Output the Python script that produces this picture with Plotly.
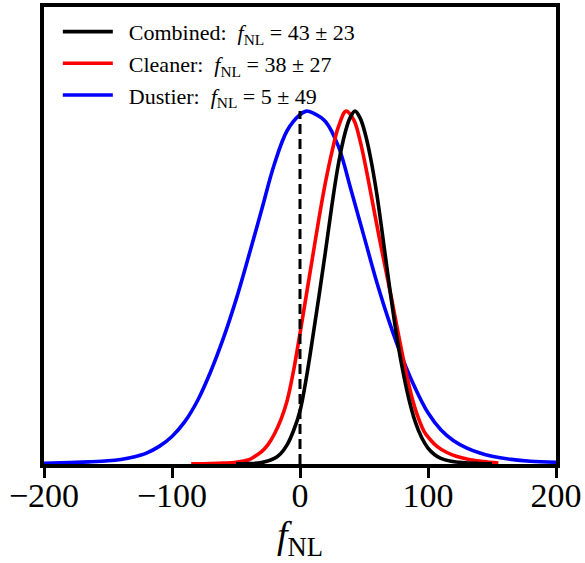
import plotly.graph_objects as go

# Posterior curves (normalized to peak = 1)
dustier_x = [-200, -180, -165, -150, -140, -130, -120, -110, -100, -90, -80, -70, -60, -50, -40, -30, -20,
             -10, 0, 5, 10, 20, 30, 40, 50, 60, 70, 80, 90, 100, 110, 120, 130, 140, 150, 165, 180, 200]
dustier_y = [0.002, 0.004, 0.006, 0.009, 0.013, 0.02, 0.031, 0.05, 0.078, 0.12, 0.18, 0.26, 0.355, 0.465,
             0.59, 0.72, 0.85, 0.945, 0.99, 1.0, 0.995, 0.97, 0.9, 0.775, 0.645, 0.515, 0.40, 0.30, 0.215,
             0.145, 0.097, 0.066, 0.046, 0.032, 0.022, 0.013, 0.008, 0.005]

cleaner_x = [-85, -70, -60, -50, -40, -36, -30, -25, -20, -15, -10, -5, 0, 5, 10, 15, 20, 25, 30, 36, 42,
             47, 52, 57, 62, 67, 72, 77, 82, 87, 92, 97, 102, 107, 114, 122, 132, 143, 155]
cleaner_y = [0.0004, 0.0012, 0.0025, 0.005, 0.012, 0.02, 0.035, 0.055, 0.085, 0.125, 0.18, 0.265, 0.37,
             0.48, 0.59, 0.70, 0.80, 0.885, 0.955, 1.0, 0.975, 0.915, 0.83, 0.735, 0.64, 0.55, 0.46, 0.365,
             0.275, 0.195, 0.135, 0.092, 0.068, 0.05, 0.034, 0.022, 0.013, 0.007, 0.003]

combined_x = [-50, -40, -30, -20, -15, -10, -5, 0, 5, 10, 15, 20, 25, 30, 35, 39, 43, 47, 51, 55, 60, 65,
              70, 75, 80, 85, 90, 95, 100, 105, 110, 118, 127, 140, 150]
combined_y = [0.0004, 0.001, 0.004, 0.016, 0.03, 0.055, 0.095, 0.15, 0.245, 0.36, 0.48, 0.605, 0.735,
              0.85, 0.935, 0.98, 1.0, 0.98, 0.935, 0.87, 0.765, 0.635, 0.5, 0.375, 0.27, 0.185, 0.12,
              0.075, 0.045, 0.027, 0.016, 0.008, 0.004, 0.0015, 0.0005]

zero_x = [0, 0]
zero_y = [0, 1.0]

x_ticks = [-200, -100, 0, 100, 200]
x_tick_labels = ["\u2212200", "\u2212100", "0", "100", "200"]

FONT = "Liberation Serif"
PAD = "\u00a0\u00a0"
fig = go.Figure()

fig.add_trace(go.Scatter(x=dustier_x, y=dustier_y, mode="lines",
                         line=dict(color="#0000ff", width=3.6, shape="spline", smoothing=1.0),
                         name=PAD + "Dustier:  <i>f</i><sub>NL</sub> = 5 \u00b1 49", legend="legend3"))
fig.add_trace(go.Scatter(x=cleaner_x, y=cleaner_y, mode="lines",
                         line=dict(color="#ff0000", width=3.6, shape="spline", smoothing=1.0),
                         name=PAD + "Cleaner:  <i>f</i><sub>NL</sub> = 38 \u00b1 27", legend="legend2"))
fig.add_trace(go.Scatter(x=combined_x, y=combined_y, mode="lines",
                         line=dict(color="#000000", width=3.6, shape="spline", smoothing=1.0),
                         name=PAD + "Combined:  <i>f</i><sub>NL</sub> = 43 \u00b1 23", legend="legend"))
fig.add_trace(go.Scatter(x=zero_x, y=zero_y, mode="lines", line=dict(color="#000000", width=3, dash="10px,5px"),
                         showlegend=False, hoverinfo="skip"))

def leg(ypix):
    return dict(x=0.027, y=(464 - ypix) / 461, xanchor="left", yanchor="middle", bgcolor="rgba(0,0,0,0)",
                font=dict(size=22, family=FONT), itemwidth=50)

fig.update_layout(
    width=585, height=563,
    margin=dict(l=44, r=28, t=3, b=99),
    paper_bgcolor="white", plot_bgcolor="white",
    font=dict(family=FONT, color="black"),
    showlegend=True,
    legend=leg(28), legend2=leg(60), legend3=leg(92),
    xaxis=dict(range=[-200, 200], tickvals=x_ticks, ticktext=x_tick_labels, ticks="outside", ticklen=10,
               tickwidth=3, tickcolor="black", showline=True, linewidth=3.5, linecolor="black", mirror=True,
               showgrid=False, zeroline=False, tickfont=dict(size=34, family=FONT), ticklabelstandoff=-12,
               title=dict(text="<i>f</i><sub>NL</sub>", font=dict(size=38, family=FONT), standoff=6)),
    yaxis=dict(range=[0, 1.295], showticklabels=False, ticks="", showline=True, linewidth=3.5, linecolor="black",
               mirror=True, showgrid=False, zeroline=False),
)

fig.write_html("out.html")
